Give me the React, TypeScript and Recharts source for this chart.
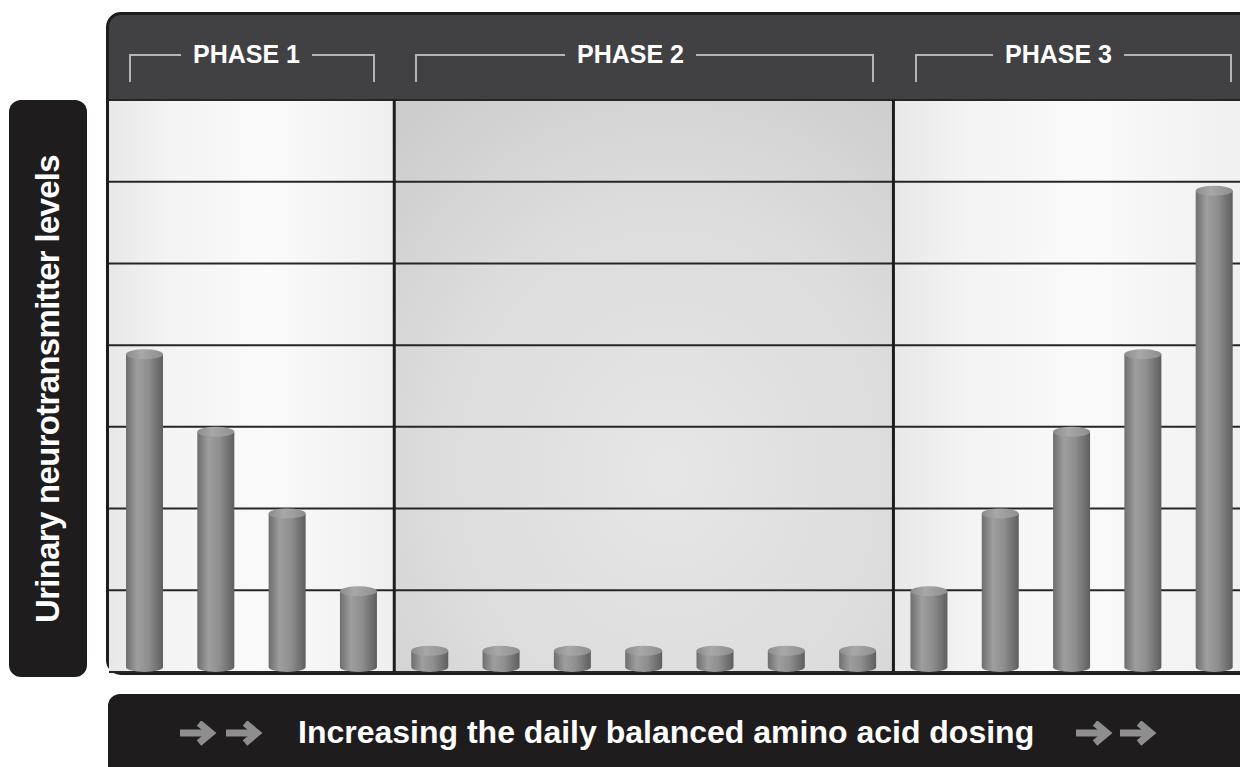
import {
  Bar,
  BarChart,
  CartesianGrid,
  ReferenceArea,
  ReferenceLine,
  XAxis,
  YAxis,
} from "recharts";

const PHASE_LABELS = ["PHASE 1", "PHASE 2", "PHASE 3"];
const BAR_PHASES = [0, 0, 0, 0, 1, 1, 1, 1, 1, 1, 1, 2, 2, 2, 2, 2];
const LEVELS = [
  3.95, 3, 2, 1.05, 0.32, 0.32, 0.32, 0.32, 0.32, 0.32, 0.32, 1.05, 2, 3, 3.95,
  5.95,
];
const Y_TICKS = [0, 1, 2, 3, 4, 5, 6, 7];
const Y_LABEL = "Urinary neurotransmitter levels";
const X_LABEL = "Increasing the daily balanced amino acid dosing";

const FONT = '"Liberation Sans", Arial, Helvetica, sans-serif';
const DARK = "#1e1c1c";
const HEADER = "#414143";
const GRID = "#262626";
const BRACKET = "#b4b4b4";

const data = LEVELS.map((level, i) => ({
  id: `b${i + 1}`,
  phase: BAR_PHASES[i],
  level,
}));

function phaseIds(p: number) {
  const ids = data.filter((d) => d.phase === p).map((d) => d.id);
  return [ids[0], ids[ids.length - 1]];
}

// header bracket placement (left edge, total width, length of left arm)
const BRACKETS = [
  { left: 129, width: 246, arm: 52 },
  { left: 415, width: 459, arm: 150 },
  { left: 915, width: 317, arm: 78 },
];

function Cylinder(props: any) {
  const { x, y, width, height } = props;
  if (!width || height == null) return null;
  const rx = width / 2;
  const ry = 5;
  const h = Math.max(height, ry * 2);
  const top = y + height - h;
  const body = `M${x},${top + ry} L${x},${top + h - ry} A${rx},${ry} 0 0 0 ${
    x + width
  },${top + h - ry} L${x + width},${top + ry} Z`;
  return (
    <g>
      <path d={body} fill="url(#cylBody)" />
      <ellipse cx={x + rx} cy={top + ry} rx={rx} ry={ry} fill="url(#cylTop)" />
    </g>
  );
}

function Arrow({ x }: { x: number }) {
  return (
    <g transform={`translate(${x},0)`}>
      <line x1={0} y1={12} x2={28} y2={12} stroke="#8e8e8e" strokeWidth={7} />
      <polyline
        points="19,2 31,12 19,22"
        fill="none"
        stroke="#8e8e8e"
        strokeWidth={7}
        strokeLinejoin="miter"
      />
    </g>
  );
}

function Gradients() {
  return (
    <svg width={0} height={0} style={{ position: "absolute" }}>
      <defs>
        <linearGradient id="cylBody" x1="0" y1="0" x2="1" y2="0">
          <stop offset="0" stopColor="#6e6e6e" />
          <stop offset="0.3" stopColor="#9e9e9e" />
          <stop offset="0.6" stopColor="#8e8e8e" />
          <stop offset="1" stopColor="#5e5e5e" />
        </linearGradient>
        <linearGradient id="cylTop" x1="0" y1="0" x2="1" y2="0">
          <stop offset="0" stopColor="#8c8c8c" />
          <stop offset="0.4" stopColor="#a8a8a8" />
          <stop offset="1" stopColor="#8e8e8e" />
        </linearGradient>
        <linearGradient id="lightCol" x1="0" y1="0" x2="1" y2="0">
          <stop offset="0" stopColor="#e8e8e8" />
          <stop offset="0.2" stopColor="#f3f3f3" />
          <stop offset="0.55" stopColor="#fafafa" />
          <stop offset="1" stopColor="#efefef" />
        </linearGradient>
        <radialGradient id="midCol" cx="0.55" cy="0.65" r="0.8">
          <stop offset="0" stopColor="#e6e6e6" />
          <stop offset="0.6" stopColor="#dcdcdc" />
          <stop offset="1" stopColor="#cdcdcd" />
        </radialGradient>
      </defs>
    </svg>
  );
}

export default function App() {
  const fills = ["url(#lightCol)", "url(#midCol)", "url(#lightCol)"];
  return (
    <div
      style={{
        position: "fixed",
        left: 0,
        top: 0,
        width: 1240,
        height: 767,
        overflow: "hidden",
        background: "#ffffff",
        fontFamily: FONT,
      }}
    >
      <Gradients />

      {/* frame with header band */}
      <div
        style={{
          position: "absolute",
          left: 106,
          top: 12,
          width: 1200,
          height: 663,
          boxSizing: "border-box",
          border: `3px solid ${DARK}`,
          borderRadius: 15,
          background: HEADER,
        }}
      />

      <div style={{ position: "absolute", left: 0, top: 0 }}>
        <BarChart
          width={1262}
          height={767}
          data={data}
          barSize={37}
          margin={{ top: 100, right: 12, bottom: 95, left: 109 }}
        >
          <XAxis dataKey="id" hide />
          <YAxis hide domain={[0, 7]} ticks={Y_TICKS} type="number" />
          {PHASE_LABELS.map((p, i) => {
            const [a, b] = phaseIds(i);
            return (
              <ReferenceArea
                key={p}
                x1={a}
                x2={b}
                fill={fills[i]}
                fillOpacity={1}
                stroke="none"
                zIndex={50}
              />
            );
          })}
          <CartesianGrid
            vertical={false}
            stroke={GRID}
            strokeWidth={2}
            zIndex={100}
          />
          {PHASE_LABELS.slice(0, -1).map((p, i) => (
            <ReferenceLine
              key={p}
              x={phaseIds(i)[1]}
              position="end"
              stroke={DARK}
              strokeWidth={3}
              zIndex={120}
            />
          ))}
          <Bar
            dataKey="level"
            shape={Cylinder}
            isAnimationActive={false}
            zIndex={300}
          />
        </BarChart>
      </div>

      {/* phase headers */}
      {PHASE_LABELS.map((label, i) => {
        const b = BRACKETS[i];
        return (
          <div
            key={label}
            style={{
              position: "absolute",
              left: b.left,
              top: 54,
              width: b.width,
              display: "flex",
              alignItems: "flex-start",
            }}
          >
            <div
              style={{
                width: b.arm,
                height: 28,
                borderTop: `2px solid ${BRACKET}`,
                borderLeft: `2px solid ${BRACKET}`,
                boxSizing: "border-box",
              }}
            />
            <div
              style={{
                marginTop: -15,
                padding: "0 12px",
                color: "#ffffff",
                fontWeight: 700,
                fontSize: 25,
                lineHeight: "30px",
                whiteSpace: "nowrap",
              }}
            >
              {label}
            </div>
            <div
              style={{
                flex: 1,
                height: 28,
                borderTop: `2px solid ${BRACKET}`,
                borderRight: `2px solid ${BRACKET}`,
                boxSizing: "border-box",
              }}
            />
          </div>
        );
      })}

      {/* y label box */}
      <div
        style={{
          position: "absolute",
          left: 9,
          top: 100,
          width: 78,
          height: 577,
          background: DARK,
          borderRadius: 12,
        }}
      >
        <div
          style={{
            position: "absolute",
            left: "50%",
            top: "50%",
            transform: "translate(-50%, -50%) rotate(-90deg)",
            whiteSpace: "nowrap",
            color: "#ffffff",
            fontWeight: 700,
            fontSize: 33,
            letterSpacing: -0.7,
            lineHeight: "36px",
          }}
        >
          {Y_LABEL}
        </div>
      </div>

      {/* x label bar */}
      <div
        style={{
          position: "absolute",
          left: 108,
          top: 694,
          width: 1200,
          height: 80,
          background: DARK,
          borderTopLeftRadius: 12,
        }}
      >
        <svg
          width={1200}
          height={30}
          style={{ position: "absolute", left: 0, top: 27 }}
        >
          <Arrow x={72} />
          <Arrow x={118} />
          <Arrow x={968} />
          <Arrow x={1012} />
        </svg>
        <div
          style={{
            position: "absolute",
            left: 190,
            top: 22,
            color: "#ffffff",
            fontWeight: 700,
            fontSize: 32,
            lineHeight: "32px",
            whiteSpace: "nowrap",
          }}
        >
          {X_LABEL}
        </div>
      </div>
    </div>
  );
}
